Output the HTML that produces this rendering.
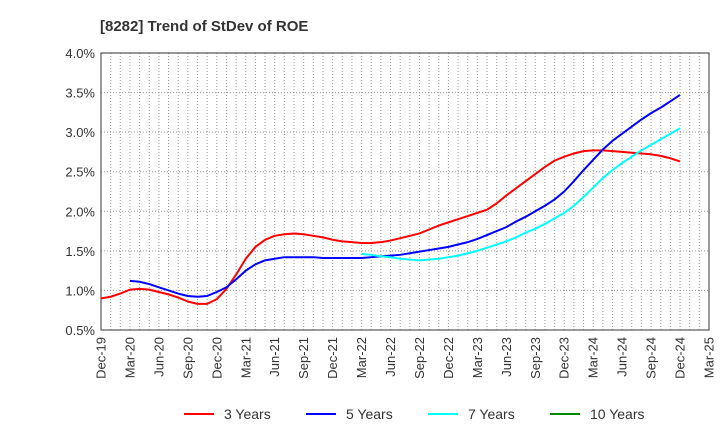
<!DOCTYPE html>
<html><head><meta charset="utf-8"><style>
body{margin:0;background:#fff;font-family:"Liberation Sans",Arial,sans-serif}
</style></head><body>
<svg width="720" height="440" xmlns="http://www.w3.org/2000/svg" font-family="Liberation Sans, Arial, sans-serif">
<text x="100" y="31" font-size="15" font-weight="bold" fill="#333">[8282]  Trend of StDev of ROE</text>
<g id="grid"></g><g id="axes"></g><g id="series"></g>
<g font-size="14" fill="#333">
<g><line x1="184" y1="414" x2="214" y2="414" stroke="#f00" stroke-width="2"/><text x="224" y="419">3 Years</text></g>
<g><line x1="306" y1="414" x2="336" y2="414" stroke="#00f" stroke-width="2"/><text x="346" y="419">5 Years</text></g>
<g><line x1="428" y1="414" x2="458" y2="414" stroke="#0ff" stroke-width="2"/><text x="468" y="419">7 Years</text></g>
<g><line x1="550" y1="414" x2="580" y2="414" stroke="#080" stroke-width="2"/><text x="590" y="419">10 Years</text></g>
</g>
</svg>
<script>
const xLabels=["Dec-19","Mar-20","Jun-20","Sep-20","Dec-20","Mar-21","Jun-21","Sep-21","Dec-21","Mar-22","Jun-22","Sep-22","Dec-22","Mar-23","Jun-23","Sep-23","Dec-23","Mar-24","Jun-24","Sep-24","Dec-24","Mar-25"];
const yTicks=[0.5,1.0,1.5,2.0,2.5,3.0,3.5,4.0];
const s3Start=0;
const s3=[.90,.92,.96,1.01,1.02,1.01,.98,.95,.91,.86,.83,.83,.89,1.02,1.20,1.40,1.55,1.64,1.69,1.71,1.72,1.71,1.69,1.67,1.64,1.62,1.61,1.60,1.60,1.61,1.63,1.66,1.69,1.72,1.77,1.82,1.86,1.90,1.94,1.98,2.02,2.10,2.20,2.29,2.38,2.47,2.56,2.64,2.69,2.73,2.76,2.77,2.77,2.76,2.75,2.74,2.73,2.72,2.70,2.67,2.63];
const s5Start=3;
const s5=[1.12,1.11,1.08,1.04,1.00,.96,.93,.92,.93,.98,1.04,1.14,1.25,1.33,1.38,1.40,1.42,1.42,1.42,1.42,1.41,1.41,1.41,1.41,1.41,1.42,1.43,1.44,1.45,1.47,1.49,1.51,1.53,1.55,1.58,1.61,1.65,1.70,1.75,1.80,1.87,1.93,2.00,2.07,2.15,2.25,2.38,2.52,2.65,2.78,2.89,2.98,3.07,3.16,3.24,3.31,3.39,3.47];
const s7Start=27;
const s7=[1.46,1.45,1.43,1.42,1.40,1.39,1.38,1.39,1.40,1.42,1.44,1.47,1.50,1.54,1.58,1.62,1.67,1.73,1.78,1.84,1.91,1.98,2.07,2.18,2.30,2.42,2.52,2.61,2.69,2.77,2.84,2.91,2.98,3.05];
const L=101,R=709,T=53,B=330,NM=63;
const X=i=>L+i*(R-L)/NM, Y=v=>B-(v-0.5)/3.5*(B-T);
const NS="http://www.w3.org/2000/svg";
function mk(t,a,p){const e=document.createElementNS(NS,t);for(const k in a)e.setAttribute(k,a[k]);p.appendChild(e);return e;}
const grid=document.getElementById('grid'),axes=document.getElementById('axes'),ser=document.getElementById('series');
for(let i=1;i<NM;i++){const g=mk('line',{x1:X(i),x2:X(i),y1:T,y2:B,stroke:'#999','stroke-dasharray':'1,2','stroke-width':1},grid);

}
yTicks.forEach(v=>{const g=mk('line',{x1:L,x2:R,y1:Y(v),y2:Y(v),stroke:'#999','stroke-dasharray':'1,2'},grid);


const t=mk('text',{x:L-6,y:Y(v)+5,'text-anchor':'end','font-size':13,fill:'#333'},axes);t.textContent=v.toFixed(1)+'%';

});
const box=mk('rect',{x:L,y:T,width:R-L,height:B-T,fill:'none',stroke:'#555','stroke-width':1.2},axes);


xLabels.forEach((s,k)=>{const x=X(k*3);const t=mk('text',{x:0,y:0,transform:`translate(${x+4.5},337) rotate(-90)`,'text-anchor':'end','font-size':13,fill:'#333'},axes);t.textContent=s;

});
function line(d,st,c,n){const p=mk('polyline',{points:d.map((v,i)=>X(st+i)+','+Y(v)).join(' '),fill:'none',stroke:c,'stroke-width':2,'stroke-linejoin':'round'},ser);

}
line(s3,s3Start,'#f00','series-3-years');
line(s5,s5Start,'#00f','series-5-years');
line(s7,s7Start,'#0ff','series-7-years');
</script>
</body></html>
